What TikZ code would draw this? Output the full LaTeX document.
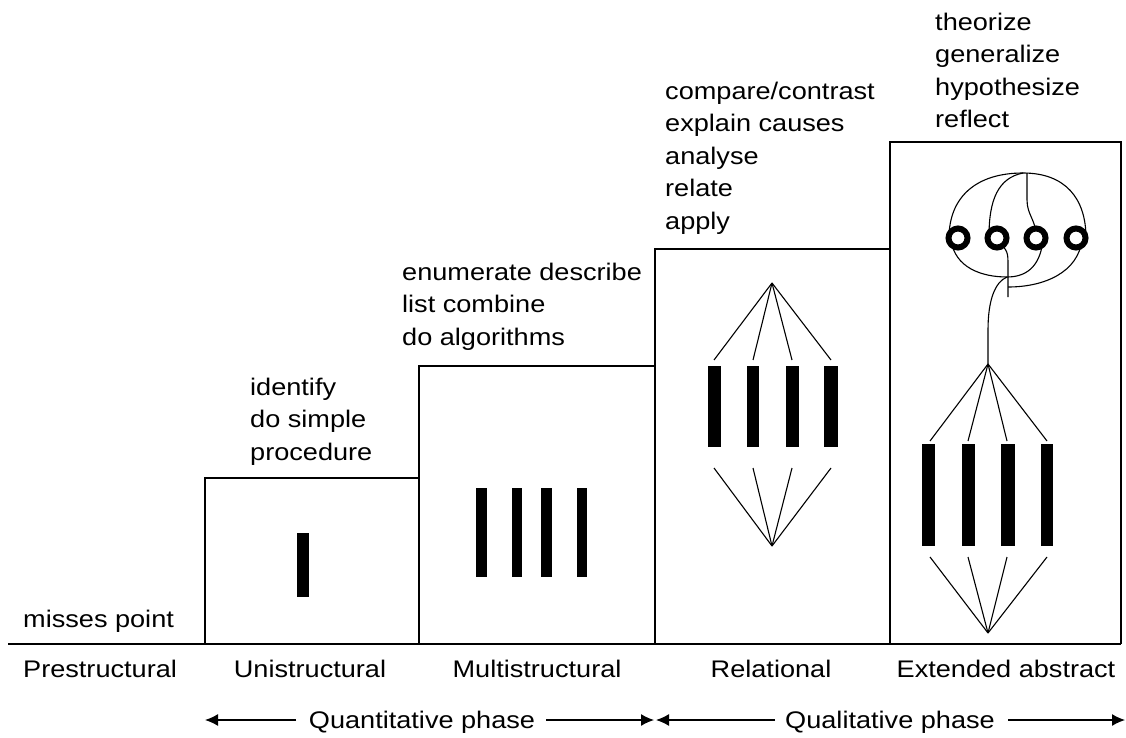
\documentclass[tikz,border=0pt]{standalone}
\usepackage{fontspec}
\setmainfont{Liberation Sans}[FakeStretch=1.13]
\usetikzlibrary{arrows.meta}
\tikzset{
  lbl/.style={font=\fontsize{24}{32.5}\selectfont, inner sep=0pt, align=left},
  boxline/.style={line width=1.6pt},
  fanline/.style={line width=1.1pt},
  barfill/.style={fill=black},
  ring/.style={draw, circle, line width=6pt, fill=white, minimum size=19pt, inner sep=0pt},
  phasearrow/.style={line width=1.3pt, -{Latex[length=13pt,width=12pt]}},
}
\begin{document}
\begin{tikzpicture}[x=1pt,y=-1pt]
\useasboundingbox (0,0) rectangle (1126,738);

% ground line and boxes
\coordinate (g0) at (8,644);
\coordinate (g1) at (1121,644);
\draw[boxline] (g0) -- (g1);
\draw[boxline] (205,644) |- (419,478) -- (419,644);
\draw[boxline] (419,478) |- (655,366) -- (655,644);
\draw[boxline] (655,366) |- (890,249) -- (890,644);
\draw[boxline] (890,249) |- (1121,142) -- (1121,644);

% verb lists (anchor at the baseline of the last line)
\node[lbl, anchor=base west] (t0) at (23,627) {misses point};
\node[lbl, anchor=base west] (t1) at (250,460) {identify\\do simple\\procedure};
\node[lbl, anchor=base west] (t2) at (402,345) {enumerate describe\\list combine\\do algorithms};
\node[lbl, anchor=base west] (t3) at (665,229) {compare/contrast\\explain causes\\analyse\\relate\\apply};
\node[lbl, anchor=base west] (t4) at (935,128) {theorize\\generalize\\hypothesize\\reflect};

% level names
\node[lbl, anchor=base west] (n0) at (23,677) {Prestructural};
\node[lbl, anchor=base] (n1) at (310,677) {Unistructural};
\node[lbl, anchor=base] (n2) at (537,677) {Multistructural};
\node[lbl, anchor=base] (n3) at (771,677) {Relational};
\node[lbl, anchor=base] (n4) at (1006,677) {Extended abstract};

% unistructural bar
\fill[barfill] (297,533) rectangle (309,597);

% multistructural bars
\fill[barfill] (476,488) rectangle (487,577);
\fill[barfill] (512,488) rectangle (522,577);
\fill[barfill] (541,488) rectangle (552,577);
\fill[barfill] (577,488) rectangle (587,577);

% relational
\coordinate (rtop) at (772,283);
\coordinate (rbot) at (772,546);
\foreach \x in {714,753,792,831}{
  \draw[fanline] (rtop) -- (\x,360);
  \draw[fanline] (\x,468) -- (rbot);
}
\fill[barfill] (708,366) rectangle (721,447);
\fill[barfill] (747,366) rectangle (759,447);
\fill[barfill] (786,366) rectangle (799,447);
\fill[barfill] (824,366) rectangle (838,447);

% extended abstract, lower part
\coordinate (etop) at (988,364);
\coordinate (ebot) at (988,633);
\foreach \x in {930,968,1007,1047}{
  \draw[fanline] (etop) -- (\x,441);
  \draw[fanline] (\x,557) -- (ebot);
}
\fill[barfill] (922,444) rectangle (935,546);
\fill[barfill] (962,444) rectangle (975,546);
\fill[barfill] (1001,444) rectangle (1015,546);
\fill[barfill] (1041,444) rectangle (1053,546);

% extended abstract, upper part
\coordinate (T) at (1023,173);
\coordinate (J) at (1007,277);
\draw[fanline] (T) .. controls (975,173) and (949,198) .. (949,238);
\draw[fanline] (T) .. controls (1065,173) and (1086,198) .. (1086,238);
\draw[fanline] (T) .. controls (998,178) and (989,200) .. (989,236);
\draw[fanline] (1027,173) -- (1027,200) .. controls (1027,215) and (1036,220) .. (1036,236);
\draw[fanline] (951,240) .. controls (955,268) and (982,277) .. (J);
\draw[fanline] (1043,240) .. controls (1040,268) and (1025,277) .. (J);
\draw[fanline] (1082,240) .. controls (1078,272) and (1045,287) .. (1008,287);
\draw[fanline] (998,240) .. controls (1008,252) .. (1008,266) -- (1008,297);
\draw[fanline] (J) .. controls (995,282) and (988,300) .. (988,330) -- (etop);
\node[ring] (c1) at (958,238) {};
\node[ring] (c2) at (997,238) {};
\node[ring] (c3) at (1036,238) {};
\node[ring] (c4) at (1076,238) {};

% phases
\node[lbl, anchor=base] (qn) at (422,728) {Quantitative phase};
\node[lbl, anchor=base] (ql) at (890,728) {Qualitative phase};
\coordinate (a1) at (205,720);
\coordinate (a2) at (296,720);
\coordinate (a3) at (546,720);
\coordinate (a4) at (654,720);
\coordinate (a5) at (656,720);
\coordinate (a6) at (775,720);
\coordinate (a7) at (1008,720);
\coordinate (a8) at (1125,720);
\draw[phasearrow] (a2) -- (a1);
\draw[phasearrow] (a3) -- (a4);
\draw[phasearrow] (a6) -- (a5);
\draw[phasearrow] (a7) -- (a8);
\end{tikzpicture}
\end{document}
